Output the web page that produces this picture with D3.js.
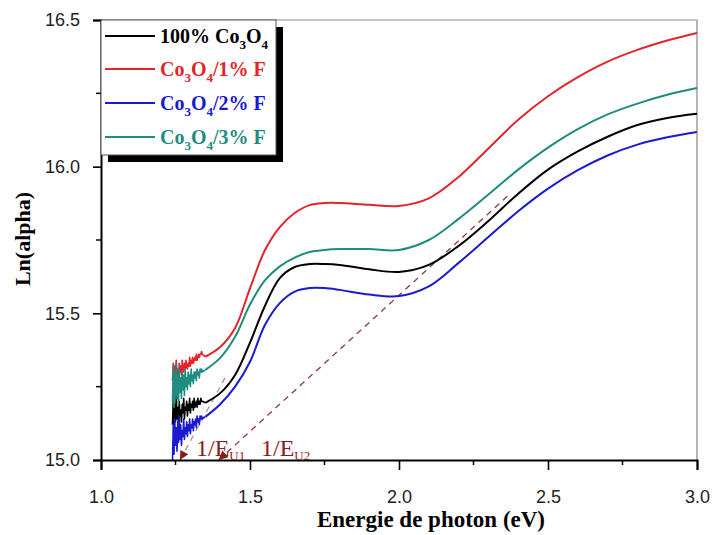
<!DOCTYPE html>
<html><head><meta charset="utf-8">
<script src="https://cdn.jsdelivr.net/npm/d3@7"></script>
<style>body{margin:0;background:#fff}</style>
</head><body>
<svg id="c" width="712" height="535"></svg>
<script>
// ---------- data ----------
// noisy low-energy segment
const noiseEnergy = [1.2400,1.2425,1.2450,1.2475,1.2500,1.2525,1.2550,1.2575,1.2600,1.2625,1.2650,1.2675,1.2700,1.2725,1.2750,1.2775,1.2800,1.2825,1.2850,1.2875,1.2900,1.2925,1.2950,1.2975,1.3000,1.3025,1.3050,1.3075,1.3100,1.3125,1.3150,1.3175,1.3200,1.3225,1.3250,1.3275,1.3300,1.3325,1.3350,1.3375,1.3400];
const blackNoise = [15.12,15.21,15.10,15.19,15.13,15.22,15.14,15.18,15.12,15.20,15.15,15.17,15.13,15.19,15.16,15.21,15.14,15.18,15.17,15.20,15.15,15.19,15.17,15.21,15.16,15.19,15.18,15.20,15.17,15.21,15.18,15.19,15.20,15.18,15.21,15.19,15.20,15.19,15.21,15.20,15.20];
const redNoise   = [15.27,15.33,15.29,15.32,15.30,15.34,15.29,15.31,15.28,15.33,15.30,15.32,15.29,15.34,15.31,15.30,15.33,15.31,15.34,15.32,15.31,15.33,15.32,15.35,15.32,15.34,15.33,15.35,15.33,15.34,15.35,15.34,15.36,15.34,15.35,15.36,15.35,15.36,15.36,15.37,15.36];
const blueNoise  = [15.00,15.12,15.02,15.14,15.05,15.11,15.03,15.13,15.06,15.15,15.07,15.12,15.05,15.10,15.08,15.14,15.07,15.11,15.09,15.13,15.08,15.12,15.10,15.14,15.09,15.12,15.11,15.14,15.10,15.13,15.12,15.14,15.11,15.15,15.13,15.14,15.12,15.15,15.14,15.15,15.14];
const tealNoise  = [15.20,15.32,15.18,15.30,15.22,15.33,15.21,15.29,15.19,15.31,15.23,15.28,15.21,15.30,15.24,15.29,15.22,15.31,15.25,15.28,15.24,15.30,15.26,15.29,15.25,15.31,15.27,15.29,15.26,15.30,15.28,15.30,15.27,15.31,15.29,15.30,15.28,15.31,15.30,15.31,15.30];

// smooth part
const smoothEnergy = [1.35,1.40,1.45,1.50,1.55,1.60,1.65,1.70,1.75,1.80,1.90,2.00,2.10,2.20,2.30,2.40,2.50,2.60,2.70,2.80,2.90,3.00];
const blackSmooth = [15.195,15.228,15.290,15.400,15.525,15.620,15.658,15.668,15.668,15.665,15.650,15.641,15.665,15.730,15.815,15.908,15.990,16.052,16.102,16.142,16.166,16.180];
const redSmooth   = [15.352,15.385,15.450,15.585,15.715,15.794,15.842,15.869,15.876,15.876,15.870,15.866,15.892,15.965,16.062,16.160,16.240,16.305,16.358,16.398,16.430,16.456];
const blueSmooth  = [15.147,15.190,15.250,15.335,15.460,15.535,15.574,15.586,15.586,15.580,15.564,15.559,15.592,15.672,15.760,15.848,15.925,15.988,16.038,16.075,16.100,16.118];
const tealSmooth  = [15.307,15.348,15.420,15.530,15.612,15.660,15.690,15.709,15.716,15.719,15.719,15.716,15.750,15.822,15.905,15.990,16.065,16.128,16.178,16.215,16.245,16.268];

const seriesNames = ["100% Co3O4","Co3O4/1% F","Co3O4/2% F","Co3O4/3% F"];
const seriesColors = ["#000000","#e3242b","#1a1ad0","#1f8c80"];

const tangentU1 = [[1.265,15.0],[1.416,15.280]];
const tangentU2 = [[1.395,15.0],[2.37,15.905]];

const xTicks = [1.0,1.5,2.0,2.5,3.0];
const xMinor = [1.25,1.75,2.25,2.75];
const yTicks = [15.0,15.5,16.0,16.5];
const yMinor = [15.25,15.75,16.25];

// ---------- chart ----------
const svg = d3.select("#c");
const x = d3.scaleLinear().domain([1,3]).range([101,697]);
const y = d3.scaleLinear().domain([15,16.5]).range([460,20]);

const allNoise = [blackNoise, redNoise, blueNoise, tealNoise];
const allSmooth = [blackSmooth, redSmooth, blueSmooth, tealSmooth];
const series = seriesNames.map((n,i)=>({
  name:n, color:seriesColors[i],
  noise: noiseEnergy.map((e,j)=>[e, allNoise[i][j]]).concat([[smoothEnergy[0], allSmooth[i][0]]]),
  smooth: smoothEnergy.map((e,j)=>[e, allSmooth[i][j]])
}));

// frame (top/right)
svg.append("line").attr("x1",x(1)).attr("x2",x(3)).attr("y1",y(16.5)).attr("y2",y(16.5)).attr("stroke","#888").attr("stroke-width",1.2);
svg.append("line").attr("x1",x(3)).attr("x2",x(3)).attr("y1",y(16.5)).attr("y2",y(15)).attr("stroke","#888").attr("stroke-width",1.2);

// arrow marker
const defs = svg.append("defs");
defs.append("marker").attr("id","arr").attr("viewBox","0 0 10 10").attr("refX",10).attr("refY",5)
  .attr("markerWidth",11).attr("markerHeight",9).attr("markerUnits","userSpaceOnUse")
  .attr("orient","auto-start-reverse")
  .append("path").attr("d","M0,0 L10,5 L0,10 Z").attr("fill","#8b1a1a");

const line = d3.line().x(d=>x(d[0])).y(d=>y(d[1]));

// dashed tangents
[tangentU1, tangentU2].forEach((t,i)=>{
  svg.append("path").attr("d", line(t)).attr("fill","none")
    .attr("stroke", i===0 ? "#b89090" : "#8b3a3a").attr("stroke-width",1.3)
    .attr("stroke-dasharray","6,5").attr("marker-start","url(#arr)");
});

// curves
const smoothLine = d3.line().x(d=>x(d[0])).y(d=>y(d[1])).curve(d3.curveCatmullRom.alpha(0.5));
series.forEach(s=>{
  svg.append("path").attr("d", line(s.noise)).attr("fill","none")
    .attr("stroke", s.color).attr("stroke-width",1.6).attr("stroke-linejoin","round");
  svg.append("path").attr("d", smoothLine(s.smooth)).attr("fill","none")
    .attr("stroke", s.color).attr("stroke-width",2);
});

// axes
const xAxis = d3.axisBottom(x).tickValues(xTicks).tickFormat(d3.format(".1f")).tickSizeOuter(0).tickSize(10).tickPadding(20);
const gx = svg.append("g").attr("transform",`translate(0,${y(15)})`).call(xAxis);
const yAxis = d3.axisLeft(y).tickValues(yTicks).tickFormat(d3.format(".1f")).tickSizeOuter(0).tickSize(8).tickPadding(13);
const gy = svg.append("g").attr("transform",`translate(${x(1)},0)`).call(yAxis);
[gx,gy].forEach(g=>{
  g.select(".domain").attr("stroke","#000").attr("stroke-width",2);
  g.selectAll(".tick line").attr("stroke","#000").attr("stroke-width",1.6);
  g.selectAll(".tick text").attr("font-family","Liberation Sans, Arial, sans-serif").attr("font-size",18).attr("fill","#222");
});
svg.append("g").attr("transform",`translate(0,${y(15)})`).selectAll("line").data(xMinor).join("line")
  .attr("x1",d=>x(d)).attr("x2",d=>x(d)).attr("y1",0).attr("y2",5).attr("stroke","#000").attr("stroke-width",1.5);
svg.append("g").attr("transform",`translate(${x(1)},0)`).selectAll("line").data(yMinor).join("line")
  .attr("y1",d=>y(d)).attr("y2",d=>y(d)).attr("x1",0).attr("x2",-5).attr("stroke","#000").attr("stroke-width",1.5);

// axis titles
svg.append("text").attr("x",431).attr("y",527).attr("text-anchor","middle")
  .attr("font-family","Liberation Serif, Times New Roman, serif").attr("font-weight","bold").attr("font-size",23)
  .text("Energie de photon (eV)");
svg.append("text").attr("transform","translate(30,239) rotate(-90)").attr("text-anchor","middle")
  .attr("font-family","Liberation Serif, Times New Roman, serif").attr("font-weight","bold").attr("font-size",22)
  .text("Ln(alpha)");

// tangent labels
function eLabel(px, text, sub){
  const t = svg.append("text").attr("x",px).attr("y",456)
    .attr("font-family","Liberation Serif, Times New Roman, serif").attr("font-size",24).attr("fill","#8b1a1a");
  t.append("tspan").text(text);
  t.append("tspan").attr("font-size",13).attr("dy",4).text(sub);
}
eLabel(196,"1/E","U1");
eLabel(261,"1/E","U2");

// legend
const lg = svg.append("g");
lg.append("rect").attr("x",108).attr("y",27).attr("width",175).attr("height",135).attr("fill","#000");
lg.append("rect").attr("x",101).attr("y",20).attr("width",175).attr("height",135).attr("fill","#fff").attr("stroke","#555").attr("stroke-width",1);
const legendRows = [36,69,103,137];
const legendParts = [
  [["100% Co",0],["3",1],["O",0],["4",1]],
  [["Co",0],["3",1],["O",0],["4",1],["/1% F",0]],
  [["Co",0],["3",1],["O",0],["4",1],["/2% F",0]],
  [["Co",0],["3",1],["O",0],["4",1],["/3% F",0]]
];
series.forEach((s,i)=>{
  const yy = legendRows[i];
  lg.append("line").attr("x1",105).attr("x2",155).attr("y1",yy).attr("y2",yy).attr("stroke",s.color).attr("stroke-width",2);
  const t = lg.append("text").attr("x",160).attr("y",yy+7).attr("fill",s.color)
    .attr("font-family","Liberation Serif, Times New Roman, serif").attr("font-weight","bold").attr("font-size",20);
  let prevSub = false;
  legendParts[i].forEach(([txt,sub])=>{
    const sp = t.append("tspan").text(txt);
    if(sub){ sp.attr("font-size",13).attr("dy", prevSub?0:6); }
    else if(prevSub){ sp.attr("dy",-6); }
    prevSub = !!sub;
  });
});
</script>
</body></html>
